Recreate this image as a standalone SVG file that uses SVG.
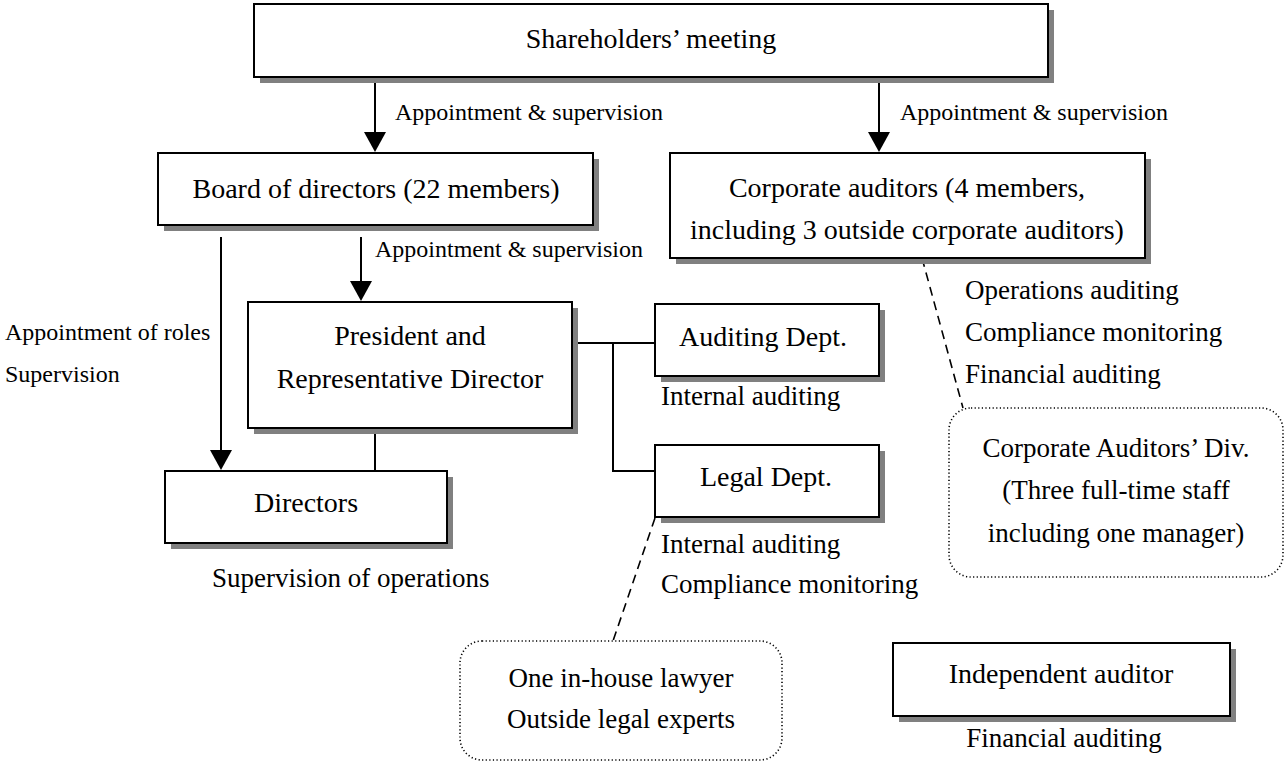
<svg xmlns="http://www.w3.org/2000/svg" width="1286" height="763" viewBox="0 0 1286 763">
<defs>
<style>
text{font-family:"Liberation Serif","Times New Roman",serif;fill:#000}
.sh{fill:#808080;stroke:none}
.box{fill:#fff;stroke:#000;stroke-width:2}
.dot{fill:#fff;stroke:#000;stroke-width:1.6;stroke-dasharray:1.2 2.4}
.ln{fill:none;stroke:#000;stroke-width:2}
.dash{fill:none;stroke:#000;stroke-width:1.6;stroke-dasharray:9 6}
.t28{font-size:28px;text-anchor:middle}
.t27{font-size:27px}
.t27m{font-size:27px;text-anchor:middle}
.t24{font-size:24px}
</style>
<marker id="ah" markerWidth="10" markerHeight="10" refX="10" refY="5" orient="auto" markerUnits="userSpaceOnUse" viewBox="0 0 10 10">
<path d="M0,0 L10,5 L0,10 z" fill="#000"/>
</marker>
</defs>
<rect width="1286" height="763" fill="#fff"/>

<g id="connectors">
<line class="ln" x1="375" y1="80" x2="375" y2="133"/>
<path d="M364,132 L386,132 L375,152 z"/>
<line class="ln" x1="879" y1="80" x2="879" y2="133"/>
<path d="M868,132 L890,132 L879,152 z"/>
<line class="ln" x1="361" y1="237" x2="361" y2="283"/>
<path d="M350,281 L372,281 L361,301 z"/>
<line class="ln" x1="221" y1="237" x2="221" y2="452"/>
<path d="M210,450 L232,450 L221,470 z"/>
<line class="ln" x1="375" y1="428" x2="375" y2="471"/>
<polyline class="ln" points="572,343 655,343"/>
<polyline class="ln" points="613,343 613,471 655,471"/>
<line class="dash" x1="922" y1="258" x2="963" y2="408"/>
<line class="dash" x1="655" y1="518" x2="613" y2="641"/>
<text class="t24" x="395" y="120">Appointment &amp; supervision</text>
<text class="t24" x="900" y="120">Appointment &amp; supervision</text>
<text class="t24" x="375" y="257">Appointment &amp; supervision</text>
<text class="t24" x="5" y="340">Appointment of roles</text>
<text class="t24" x="5" y="382">Supervision</text>
</g>

<g id="shareholders">
<rect class="sh" x="260" y="10" width="794" height="73"/>
<rect class="box" x="254" y="4" width="794" height="73"/>
<text class="t28" x="651" y="48">Shareholders’ meeting</text>
</g>

<g id="board">
<rect class="sh" x="164" y="159" width="435" height="72"/>
<rect class="box" x="158" y="153" width="435" height="72"/>
<text class="t28" x="376" y="198">Board of directors (22 members)</text>
</g>

<g id="corporate-auditors">
<rect class="sh" x="676" y="159" width="475" height="105"/>
<rect class="box" x="670" y="153" width="475" height="105"/>
<text class="t28" x="907" y="197">Corporate auditors (4 members,</text>
<text class="t28" x="907" y="239">including 3 outside corporate auditors)</text>
<text class="t27" x="965" y="299">Operations auditing</text>
<text class="t27" x="965" y="341">Compliance monitoring</text>
<text class="t27" x="965" y="383">Financial auditing</text>
</g>

<g id="president">
<rect class="sh" x="254" y="308" width="324" height="126"/>
<rect class="box" x="248" y="302" width="324" height="126"/>
<text class="t28" x="410" y="345">President and</text>
<text class="t28" x="410" y="388">Representative Director</text>
</g>

<g id="auditing-dept">
<rect class="sh" x="661" y="310" width="224" height="72"/>
<rect class="box" x="655" y="304" width="224" height="72"/>
<text class="t28" x="763" y="346">Auditing Dept.</text>
<text class="t27" x="661" y="405">Internal auditing</text>
</g>

<g id="legal-dept">
<rect class="sh" x="661" y="451" width="224" height="72"/>
<rect class="box" x="655" y="445" width="224" height="72"/>
<text class="t28" x="766" y="486">Legal Dept.</text>
<text class="t27" x="661" y="553">Internal auditing</text>
<text class="t27" x="661" y="593">Compliance monitoring</text>
</g>

<g id="directors">
<rect class="sh" x="171" y="477" width="282" height="72"/>
<rect class="box" x="165" y="471" width="282" height="72"/>
<text class="t28" x="306" y="512">Directors</text>
<text class="t27" x="212" y="587">Supervision of operations</text>
</g>

<g id="corporate-auditors-div">
<rect class="dot" x="949" y="408" width="334" height="169" rx="22" ry="22"/>
<text class="t27m" x="1116" y="457">Corporate Auditors’ Div.</text>
<text class="t27m" x="1116" y="499">(Three full-time staff</text>
<text class="t27m" x="1116" y="542">including one manager)</text>
</g>

<g id="lawyers">
<rect class="dot" x="460" y="641" width="322" height="119" rx="22" ry="22"/>
<text class="t27m" x="621" y="687">One in-house lawyer</text>
<text class="t27m" x="621" y="728">Outside legal experts</text>
</g>

<g id="independent-auditor">
<rect class="sh" x="899" y="649" width="337" height="73"/>
<rect class="box" x="893" y="643" width="337" height="73"/>
<text class="t28" x="1061" y="683">Independent auditor</text>
<text class="t27m" x="1064" y="747">Financial auditing</text>
</g>
</svg>
